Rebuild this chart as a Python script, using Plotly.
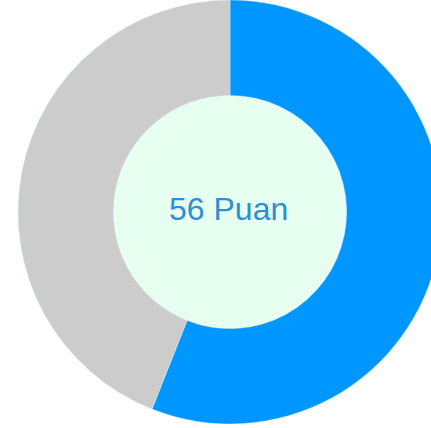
import plotly.graph_objects as go

labels = ["Puan", "Kalan"]
values = [56, 44]
colors = ["#0096ff", "#cccccc"]
center_text = "56 Puan"

W, H = 460, 428
cx, cy, R = 230, 212, 212   # pixel centre / radius of the donut
hole = 0.55

fig = go.Figure(go.Pie(
    labels=labels,
    values=values,
    sort=False,
    direction="clockwise",
    rotation=0,
    hole=hole,
    marker=dict(colors=colors, line=dict(color="rgba(220,240,255,0.7)", width=0.6)),
    textinfo="none",
    hoverinfo="label+value",
    showlegend=False,
    domain=dict(x=[(cx - R) / W, (cx + R) / W], y=[(H - cy - R) / H, (H - cy + R) / H]),
))

r_in = R * hole
fig.add_shape(type="circle", xref="paper", yref="paper",
              x0=(cx - r_in) / W, x1=(cx + r_in) / W,
              y0=(H - cy - r_in) / H, y1=(H - cy + r_in) / H,
              fillcolor="#e6fff0", line=dict(width=0), layer="below")

fig.add_annotation(text=center_text, x=228 / W, y=(H - 209) / H, xref="paper", yref="paper",
                   showarrow=False, font=dict(family="Liberation Sans, Arial", size=32, color="#2a8fd4"))

fig.update_layout(width=W, height=H, margin=dict(l=0, r=0, t=0, b=0),
                  paper_bgcolor="white", plot_bgcolor="white")

fig.write_html("out.html", config={"displayModeBar": False},
               post_script="document.body.style.overflow='hidden';document.documentElement.style.overflow='hidden';document.body.style.margin='0';")
